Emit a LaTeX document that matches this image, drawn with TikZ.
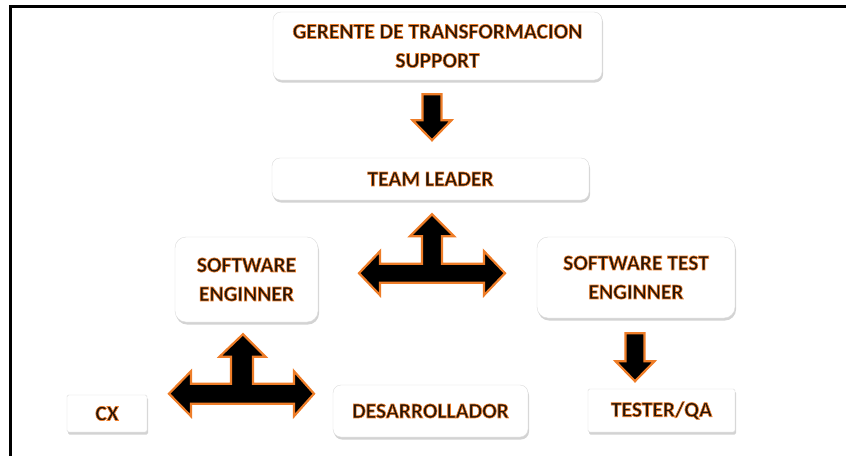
\documentclass[tikz,border=0pt]{standalone}
\usepackage{fontspec}
\usepackage{tikz}
\usetikzlibrary{calc}
\usetikzlibrary{positioning}
\usetikzlibrary{shadows}
\newfontfamily\rolefont{Carlito}
\definecolor{textdark}{RGB}{35,20,10}
\definecolor{arroworange}{RGB}{238,125,40}
% orange outline round the letters (stroke + fill)
\newcommand{\glowtext}{\special{pdf:literal direct 2 Tr 0.93 0.49 0.16 RG 0.65 w}}
\tikzstyle{rolebox} = [draw=gray!28, fill=white, rounded corners=8pt, align=center, text=textdark, font=\rolefont\bfseries\fontsize{21.5}{29}\selectfont, drop shadow={opacity=0.35, shadow xshift=1pt, shadow yshift=-2.5pt}]
\tikzstyle{flatbox} = [rolebox, rounded corners=1.5pt]
\tikzstyle{blockarrow} = [fill=black, draw=arroworange, line width=2.2pt, line join=miter]

\begin{document}
\begin{tikzpicture}[x=1pt, y=-1pt]
    \useasboundingbox (0,0) rectangle (846,456);
    \draw[line width=2.6pt] (846,6.5) -| (10.5,456);

    \node[rolebox, minimum width=329, minimum height=68] (role_gerente) at (437.5,46) {\glowtext GERENTE DE TRANSFORMACION\\SUPPORT};
    \node[rolebox, minimum width=317, minimum height=42] (role_leader) at (430.5,179) {\glowtext TEAM LEADER};
    \node[rolebox, rounded corners=11pt, minimum width=143, minimum height=85] (role_sweng) at (246.5,279.5) {\glowtext SOFTWARE\\ENGINNER};
    \node[rolebox, rounded corners=11pt, minimum width=198, minimum height=81] (role_stest) at (636,277.5) {\glowtext SOFTWARE TEST\\ENGINNER};
    \node[flatbox, minimum width=80, minimum height=37] (role_cx) at (107,413.5) {\glowtext CX};
    \node[rolebox, minimum width=195, minimum height=52] (role_desarr) at (430.5,411) {\glowtext DESARROLLADOR};
    \node[flatbox, minimum width=147, minimum height=43] (role_tester) at (661.5,410.5) {\glowtext TESTER/QA};

    \coordinate (arr_gerente) at ($(role_gerente.south)+(-5.5,14)$);
    \coordinate (arr_stest) at ($(role_stest.south)+(-1,15)$);
    \coordinate (arr_leader) at ($(role_leader.south)+(1.5,73)$);
    \coordinate (arr_sweng) at ($(role_sweng.south)+(-4.5,71.5)$);

    % down arrows
    \draw[blockarrow, shift={(arr_gerente)}] (-9.5,0) -- (9.5,0) -- (9.5,26) -- (19.5,26) -- (0,46) -- (-19.5,26) -- (-9.5,26) -- cycle;
    \draw[blockarrow, shift={(arr_stest)}] (-9.5,0) -- (9.5,0) -- (9.5,28) -- (19.5,28) -- (0,48) -- (-19.5,28) -- (-9.5,28) -- cycle;

    % T arrows
    \draw[blockarrow, shift={(arr_leader)}] (-73,0) -- (-52,-22) -- (-52,-9.5) -- (-10,-9.5) -- (-10,-37) -- (-22,-37) -- (0,-59) -- (22,-37) -- (10,-37) -- (10,-9.5) -- (52,-9.5) -- (52,-22) -- (73,0) -- (52,22) -- (52,9.5) -- (-52,9.5) -- (-52,22) -- cycle;
    \draw[blockarrow, shift={(arr_sweng)}] (-73,0) -- (-51,-22.5) -- (-51,-10) -- (-11,-10) -- (-11,-37) -- (-22.5,-37) -- (1,-59.5) -- (23.5,-37) -- (11,-37) -- (11,-10) -- (52,-10) -- (52,-22.5) -- (72,0) -- (52,22.5) -- (52,10) -- (-51,10) -- (-51,22.5) -- cycle;
\end{tikzpicture}
\end{document}
